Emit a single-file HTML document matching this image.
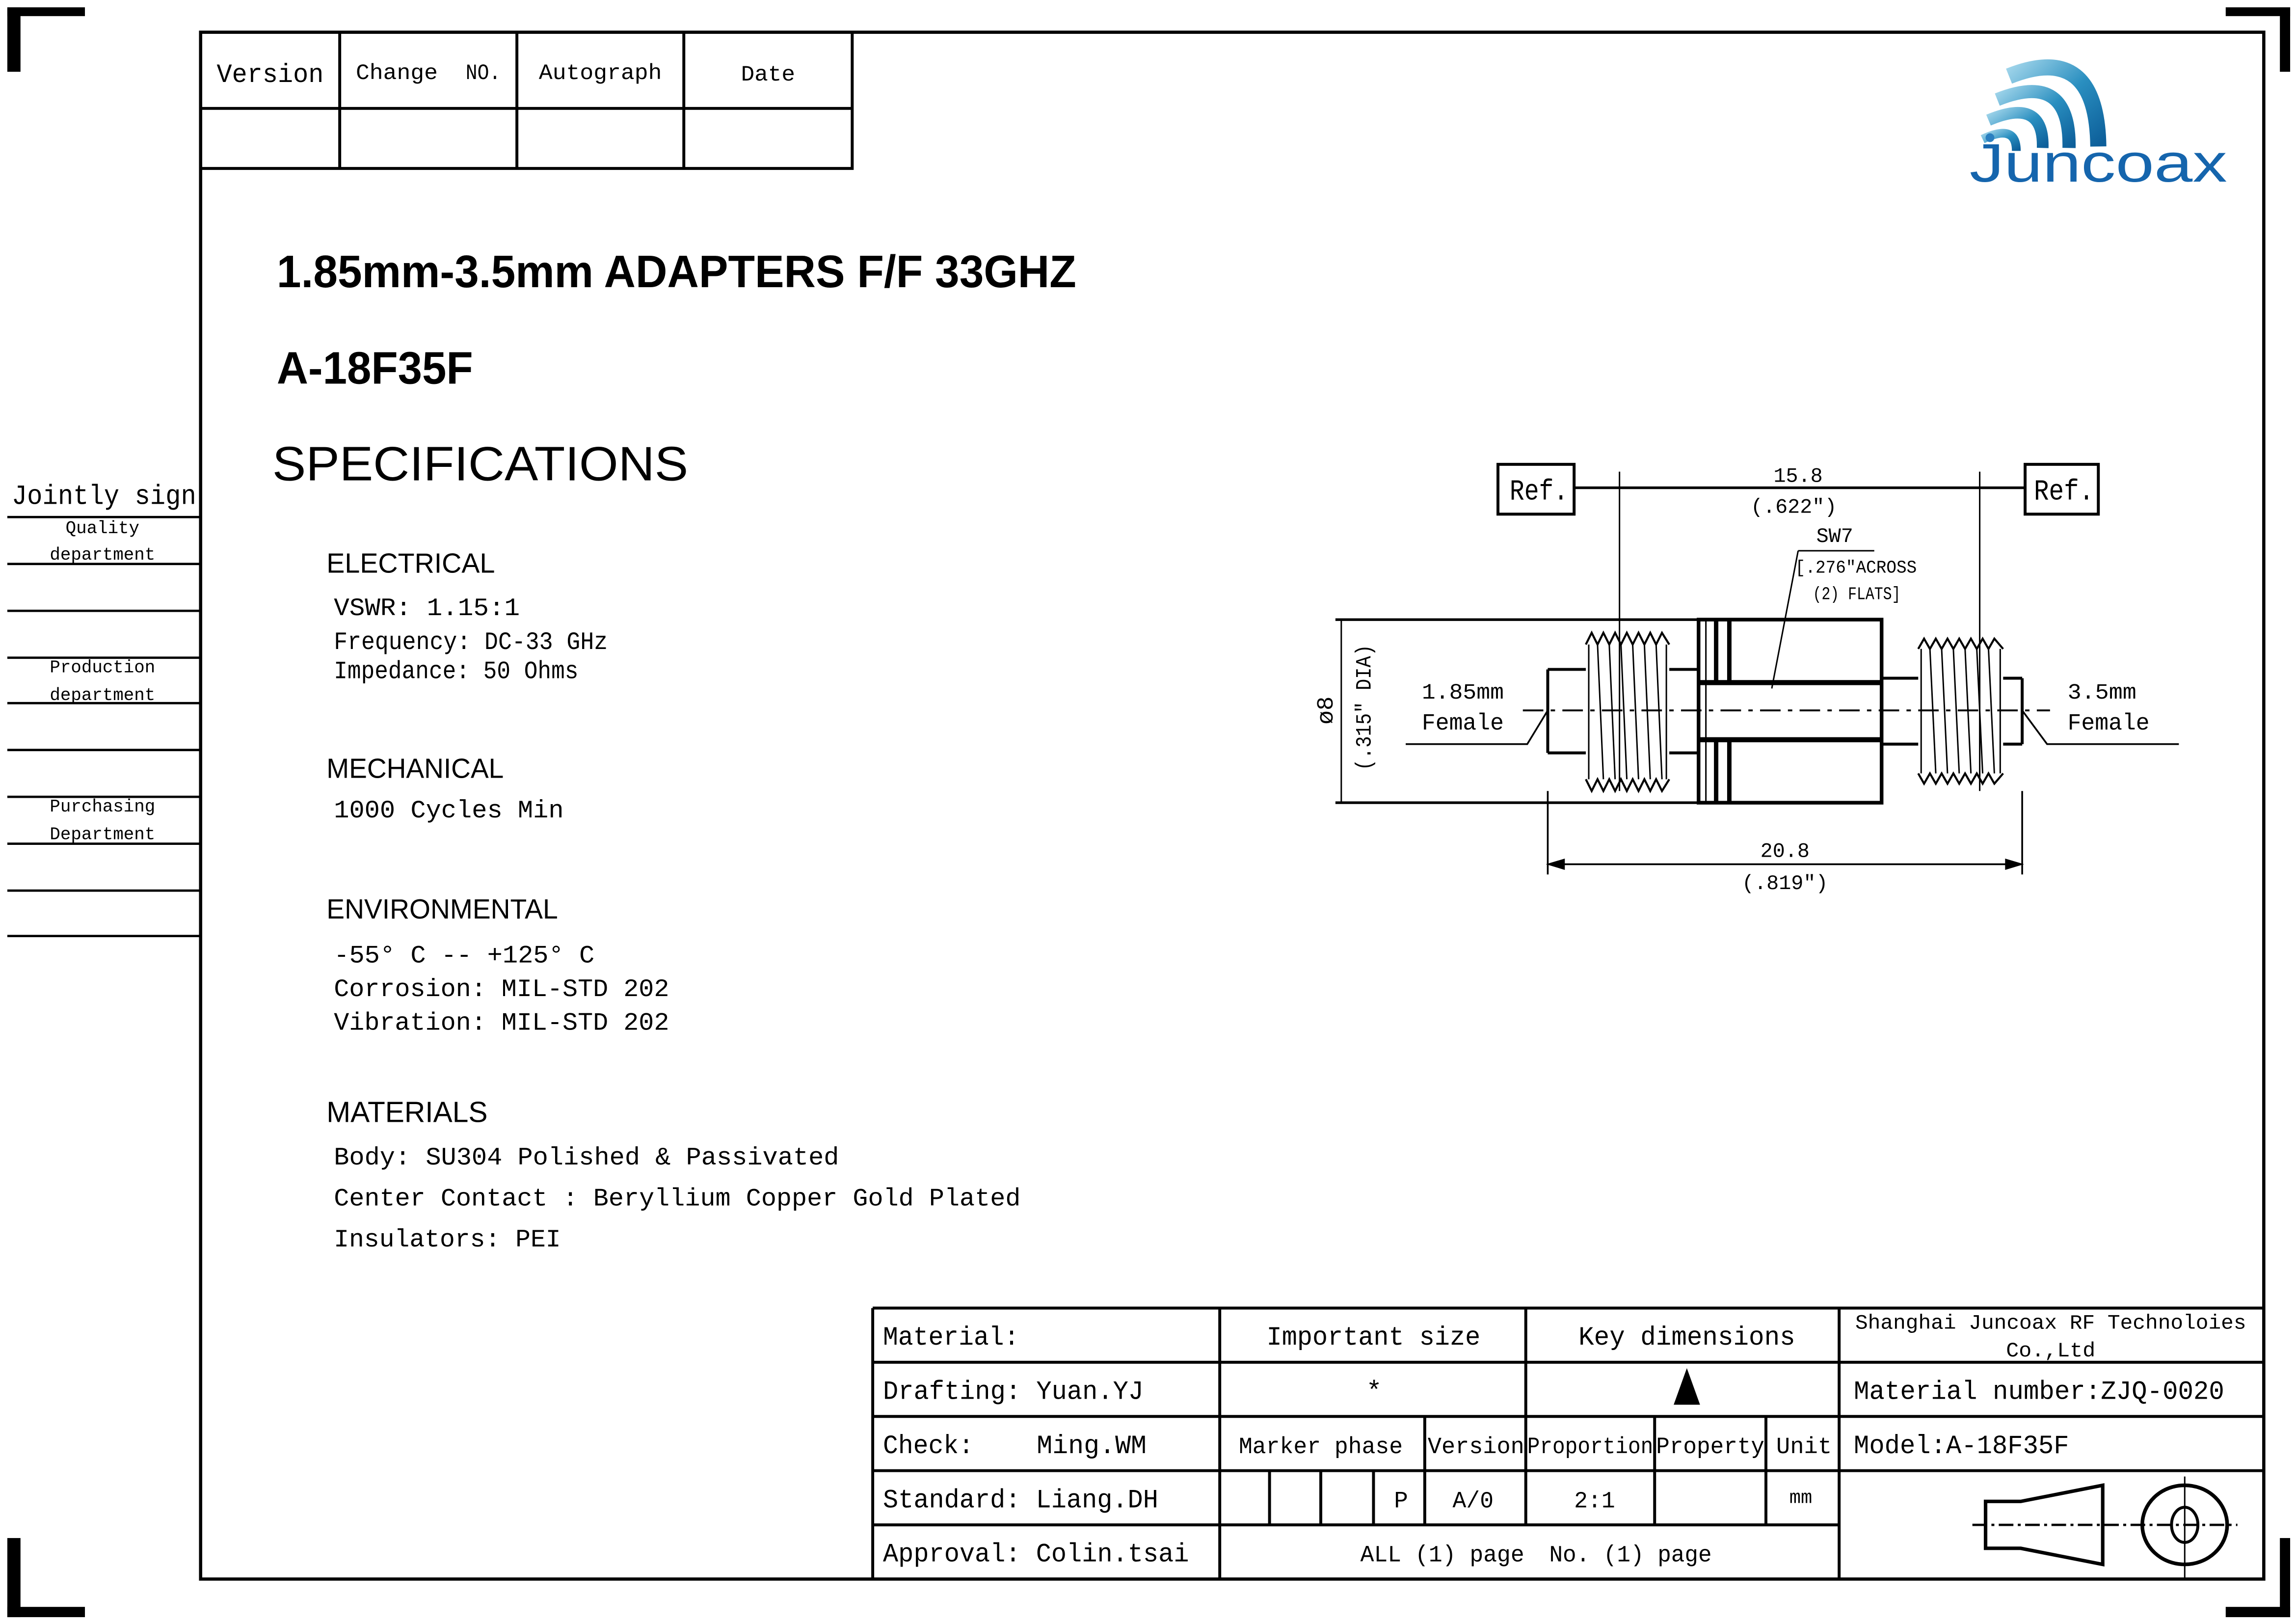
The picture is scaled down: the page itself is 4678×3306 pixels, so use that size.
<!DOCTYPE html>
<html><head><meta charset="utf-8"><style>html,body{margin:0;padding:0;background:#fff}svg{display:block}</style></head><body>
<svg width="4678" height="3306" viewBox="0 0 1568 1108" preserveAspectRatio="none" xmlns="http://www.w3.org/2000/svg">
<defs>
<linearGradient id="g" x1="0" y1="0" x2="1" y2="1"><stop offset="0" stop-color="#9fd4ea"/><stop offset="0.5" stop-color="#2a8fc0"/><stop offset="1" stop-color="#0d5f9a"/></linearGradient>
</defs>
<rect width="1568" height="1108" fill="#fff"/>
<g fill="#000">
<rect x="5" y="5" width="9" height="44"/><rect x="5" y="5" width="53" height="6"/>
<rect x="1557" y="5" width="7" height="44"/><rect x="1520" y="5" width="44" height="6"/>
<rect x="5" y="1050" width="9" height="54"/><rect x="5" y="1097" width="53" height="7"/>
<rect x="1557" y="1050" width="7" height="54"/><rect x="1520" y="1097" width="44" height="7"/>
</g>
<g stroke="#000" fill="none">
<rect x="137" y="22" width="1409" height="1056" stroke-width="2.2"/>
<path d="M137 115H582V22M137 74H582M232 22V115M353 22V115M467 22V115" stroke-width="2"/>
<path d="M5 353H137M5 385H137M5 417H137M5 449H137M5 480H137M5 512H137M5 544H137M5 576H137M5 608H137M5 639H137" stroke-width="1.6"/>
<path d="M596 893H1546M596 930H1546M596 967H1546M596 1004H1546M596 1041H1256M596 893V1078M833 893V1078M1042 893V1041M1256 893V1078M973 967V1041M1130 967V1041M1206 967V1041M867 1004V1041M902 1004V1041M938 1004V1041" stroke-width="2"/>
</g>
<g font-family="Liberation Mono, monospace" fill="#000">
<text x="148" y="56" font-size="18" textLength="73" lengthAdjust="spacingAndGlyphs">Version</text>
<text x="243" y="54" font-size="15" textLength="56" lengthAdjust="spacingAndGlyphs">Change</text>
<text x="318" y="54" font-size="15" textLength="24" lengthAdjust="spacingAndGlyphs">NO.</text>
<text x="368" y="54" font-size="15" textLength="84" lengthAdjust="spacingAndGlyphs">Autograph</text>
<text x="506" y="55" font-size="15" textLength="37" lengthAdjust="spacingAndGlyphs">Date</text>
<text x="8" y="344" font-size="19" textLength="126" lengthAdjust="spacingAndGlyphs">Jointly sign</text>
<g font-size="12" text-anchor="middle"><text x="70" y="364">Quality</text><text x="70" y="382">department</text><text x="70" y="459">Production</text><text x="70" y="478">department</text><text x="70" y="554">Purchasing</text><text x="70" y="573">Department</text></g>
</g>
<g font-family="Liberation Sans, sans-serif" fill="#000">
<text x="189" y="196" font-size="31" font-weight="bold" textLength="546" lengthAdjust="spacingAndGlyphs">1.85mm-3.5mm ADAPTERS  F/F 33GHZ</text>
<text x="189" y="262" font-size="31" font-weight="bold" textLength="134" lengthAdjust="spacingAndGlyphs">A-18F35F</text>
<text x="186" y="328" font-size="33" textLength="284" lengthAdjust="spacingAndGlyphs">SPECIFICATIONS</text>
<text x="223" y="391" font-size="19" textLength="115" lengthAdjust="spacingAndGlyphs">ELECTRICAL</text>
<text x="223" y="531" font-size="19" textLength="121" lengthAdjust="spacingAndGlyphs">MECHANICAL</text>
<text x="223" y="627" font-size="19" textLength="158" lengthAdjust="spacingAndGlyphs">ENVIRONMENTAL</text>
<text x="223" y="766" font-size="20" textLength="110" lengthAdjust="spacingAndGlyphs">MATERIALS</text>
</g>
<g font-family="Liberation Mono, monospace" fill="#000" font-size="17">
<text x="228" y="420" textLength="127" lengthAdjust="spacingAndGlyphs">VSWR:  1.15:1</text>
<text x="228" y="443" textLength="187" lengthAdjust="spacingAndGlyphs">Frequency: DC-33 GHz</text>
<text x="228" y="463" textLength="167" lengthAdjust="spacingAndGlyphs">Impedance: 50 Ohms</text>
<text x="228" y="558" textLength="157" lengthAdjust="spacingAndGlyphs">1000 Cycles Min</text>
<text x="228" y="657" textLength="178" lengthAdjust="spacingAndGlyphs">-55° C -- +125° C</text>
<text x="228" y="680" textLength="229" lengthAdjust="spacingAndGlyphs">Corrosion: MIL-STD 202</text>
<text x="228" y="703" textLength="229" lengthAdjust="spacingAndGlyphs">Vibration: MIL-STD 202</text>
<text x="228" y="795" textLength="345" lengthAdjust="spacingAndGlyphs">Body: SU304 Polished &amp; Passivated</text>
<text x="228" y="823" textLength="469" lengthAdjust="spacingAndGlyphs">Center Contact : Beryllium Copper Gold Plated</text>
<text x="228" y="851" textLength="155" lengthAdjust="spacingAndGlyphs">Insulators: PEI</text>
</g>
<g font-family="Liberation Mono, monospace" fill="#000" font-size="18">
<text x="603" y="918" textLength="93" lengthAdjust="spacingAndGlyphs">Material:</text>
<text x="865" y="918" textLength="146" lengthAdjust="spacingAndGlyphs">Important size</text>
<text x="1078" y="918" textLength="148" lengthAdjust="spacingAndGlyphs">Key dimensions</text>
<text x="1267" y="907" font-size="14" textLength="267" lengthAdjust="spacingAndGlyphs">Shanghai Juncoax RF Technoloies</text>
<text x="1370" y="926" font-size="14" textLength="61" lengthAdjust="spacingAndGlyphs">Co.,Ltd</text>
<text x="603" y="955" textLength="178" lengthAdjust="spacingAndGlyphs">Drafting: Yuan.YJ</text>
<text x="933" y="955">*</text>
<text x="1266" y="955" textLength="253" lengthAdjust="spacingAndGlyphs">Material number:ZJQ-0020</text>
<text x="603" y="992" textLength="62" lengthAdjust="spacingAndGlyphs">Check:</text>
<text x="708" y="992" textLength="75" lengthAdjust="spacingAndGlyphs">Ming.WM</text>
<text x="846" y="992" font-size="16" textLength="112" lengthAdjust="spacingAndGlyphs">Marker phase</text>
<text x="975" y="992" font-size="16" textLength="66" lengthAdjust="spacingAndGlyphs">Version</text>
<text x="1043" y="992" font-size="16" textLength="86" lengthAdjust="spacingAndGlyphs">Proportion</text>
<text x="1131" y="992" font-size="16" textLength="74" lengthAdjust="spacingAndGlyphs">Property</text>
<text x="1213" y="992" font-size="16" textLength="38" lengthAdjust="spacingAndGlyphs">Unit</text>
<text x="1266" y="992" textLength="147" lengthAdjust="spacingAndGlyphs">Model:A-18F35F</text>
<text x="603" y="1029" textLength="188" lengthAdjust="spacingAndGlyphs">Standard: Liang.DH</text>
<text x="952" y="1029" font-size="16">P</text>
<text x="992" y="1029" font-size="16" textLength="28" lengthAdjust="spacingAndGlyphs">A/0</text>
<text x="1075" y="1029" font-size="16" textLength="28" lengthAdjust="spacingAndGlyphs">2:1</text>
<text x="1222" y="1026" font-size="13">mm</text>
<text x="603" y="1066" textLength="209" lengthAdjust="spacingAndGlyphs">Approval: Colin.tsai</text>
<text x="929" y="1066" font-size="16" textLength="112" lengthAdjust="spacingAndGlyphs">ALL (1) page</text>
<text x="1058" y="1066" font-size="16" textLength="111" lengthAdjust="spacingAndGlyphs">No. (1) page</text>
</g>
<path d="M1152 934L1161 959H1143Z" fill="#000"/>
<g stroke="#000" fill="none" stroke-width="2">
<path d="M1436 1014V1068L1380 1057H1356V1025H1380Z" stroke-width="2.4"/>
<ellipse cx="1492" cy="1041" rx="29" ry="27" stroke-width="2.5"/>
<ellipse cx="1492" cy="1041" rx="9" ry="12" stroke-width="2"/>
<path d="M1347 1041H1528" stroke-dasharray="10 3 2 3" stroke-width="1.6"/>
<path d="M1492 1008V1078" stroke-width="1"/>
</g>
<g fill="none" stroke="url(#g)" stroke-linecap="butt">
<path d="M1372 52Q1432 28 1433 100" stroke-width="11"/>
<path d="M1364 68Q1414 48 1413 101" stroke-width="9"/>
<path d="M1358 82Q1396 66 1395 101" stroke-width="8"/>
<path d="M1354 95Q1377 84 1377 103" stroke-width="6"/>
</g>
<circle cx="1359" cy="94" r="3" fill="#2a7fc0"/>
<text x="1345" y="124" font-family="Liberation Sans, sans-serif" font-size="37" fill="#1565ad" textLength="176" lengthAdjust="spacingAndGlyphs">Juncoax</text>
<g stroke="#000" fill="none" stroke-width="1.3">
<rect x="1023" y="317" width="52" height="34" stroke-width="2"/>
<rect x="1383" y="317" width="50" height="34" stroke-width="2"/>
<path d="M1075 333H1383" stroke-width="1.8"/>
<path d="M1106 322V540M1352 322V540" stroke-width="1"/>
<path d="M1228 376H1280M1228 376L1210 470" stroke-width="1"/>
<path d="M912 423H1160M912 548H1160" stroke-width="1.8"/>
<path d="M916 423V548" stroke-width="1"/>
<path d="M1057 540V597M1381 540V597M1058 590H1380" stroke-width="1.2"/>
<path d="M1058 590l10 -3v6zM1380 590l-10 -3v6z" fill="#000"/>
<path d="M960 508H1043L1057 485M1381 485L1398 508H1488" stroke-width="1.2"/>
<path d="M1040 485H1400" stroke-dasharray="14 5 3 5" stroke-width="1.3"/>
<path d="M1057 457H1083M1057 514H1083M1057 457V514M1140 457H1160M1140 514H1160" stroke-width="2"/>
<path d="M1083 440L1087 432L1091 440L1095 432L1099 440L1103 432L1107 440L1111 432L1115 440L1119 432L1123 440L1127 432L1131 440L1135 432L1140 440" stroke-width="1.4"/>
<path d="M1083 532L1087 540L1091 532L1095 540L1099 532L1103 540L1107 532L1111 540L1115 532L1119 540L1123 532L1127 540L1131 532L1135 540L1140 532" stroke-width="1.4"/>
<path d="M1085 440V532M1138 440V532M1091 440L1095 532M1099 440L1103 532M1107 440L1111 532M1115 440L1119 532M1123 440L1127 532M1131 440L1135 532" stroke-width="1"/>
<rect x="1160" y="423" width="125" height="125" stroke-width="2.5"/>
<path d="M1160 466H1285M1160 505H1285" stroke-width="3.5"/>
<path d="M1172 423V466M1181 423V466M1172 505V548M1181 505V548" stroke-width="3"/>
<path d="M1165 423V548" stroke-width="1"/>
<path d="M1285 463H1310M1285 508H1310M1368 463H1381M1368 508H1381M1381 463V508" stroke-width="2"/>
<path d="M1310 443L1314 436L1318 443L1322 436L1326 443L1330 436L1334 443L1338 436L1342 443L1346 436L1350 443L1354 436L1358 443L1362 436L1368 443" stroke-width="1.4"/>
<path d="M1310 528L1314 535L1318 528L1322 535L1326 528L1330 535L1334 528L1338 535L1342 528L1346 535L1350 528L1354 535L1358 528L1362 535L1368 528" stroke-width="1.4"/>
<path d="M1312 443V528M1366 443V528M1318 443L1322 528M1326 443L1330 528M1334 443L1338 528M1342 443L1346 528M1350 443L1354 528M1358 443L1362 528" stroke-width="1"/>
</g>
<g font-family="Liberation Mono, monospace" fill="#000">
<text x="1031" y="341" font-size="20" textLength="40" lengthAdjust="spacingAndGlyphs">Ref.</text>
<text x="1389" y="341" font-size="20" textLength="41" lengthAdjust="spacingAndGlyphs">Ref.</text>
<text x="1228" y="329" font-size="14" text-anchor="middle">15.8</text>
<text x="1225" y="350" font-size="14" text-anchor="middle">(.622")</text>
<text x="1253" y="370" font-size="14" text-anchor="middle">SW7</text>
<text x="1226" y="391" font-size="12" textLength="83" lengthAdjust="spacingAndGlyphs">[.276"ACROSS</text>
<text x="1238" y="409" font-size="12" textLength="60" lengthAdjust="spacingAndGlyphs">(2) FLATS]</text>
<text x="971" y="477" font-size="15" textLength="56" lengthAdjust="spacingAndGlyphs">1.85mm</text>
<text x="971" y="498" font-size="16" textLength="56" lengthAdjust="spacingAndGlyphs">Female</text>
<text x="1412" y="477" font-size="15" textLength="47" lengthAdjust="spacingAndGlyphs">3.5mm</text>
<text x="1412" y="498" font-size="16" textLength="56" lengthAdjust="spacingAndGlyphs">Female</text>
<text x="1219" y="585" font-size="14" text-anchor="middle">20.8</text>
<text x="1219" y="607" font-size="14" text-anchor="middle">(.819")</text>
<text transform="translate(910 485) rotate(-90)" font-size="16" text-anchor="middle">ø8</text>
<text transform="translate(936 483) rotate(-90)" font-size="15" text-anchor="middle" textLength="86" lengthAdjust="spacingAndGlyphs">(.315" DIA)</text>
</g>
</svg>
</body></html>
